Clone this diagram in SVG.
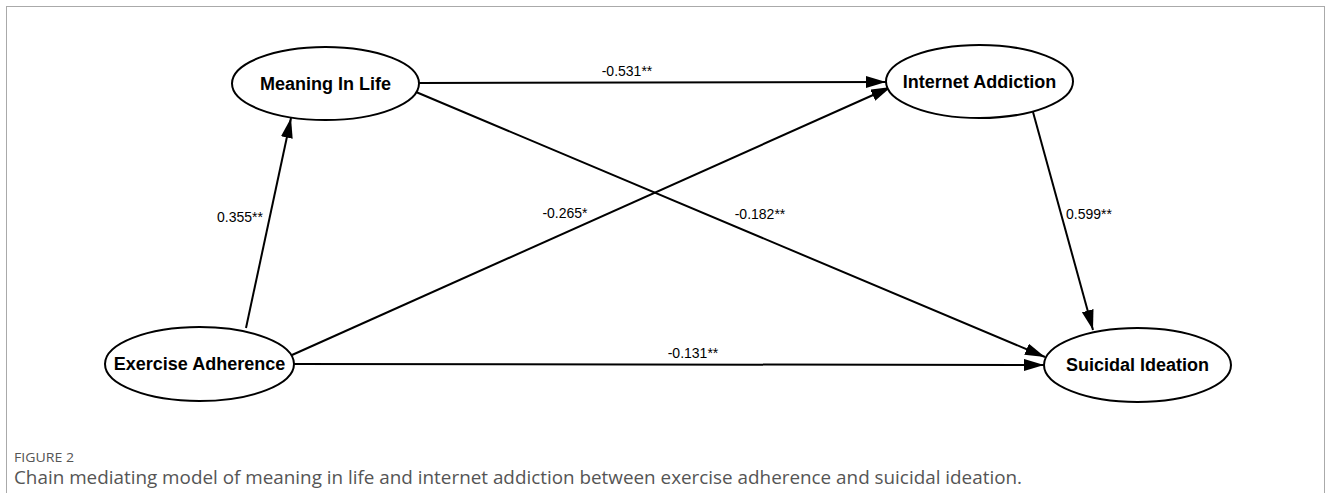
<svg xmlns="http://www.w3.org/2000/svg" width="1330" height="493" viewBox="0 0 1330 493">
<defs>
<style>
.node ellipse{fill:#fff;stroke:#000;stroke-width:2}
.node text{font-family:"Liberation Sans",Arial,sans-serif;font-weight:bold;font-size:18px;fill:#000;text-anchor:middle}
.edge line{stroke:#000;stroke-width:2;marker-end:url(#ah)}
.lbl{font-family:"Liberation Sans",Arial,sans-serif;font-size:14px;fill:#000;text-anchor:middle}
.cap1{font-family:"Open Sans","Noto Sans",sans-serif;font-size:12px;fill:#555}
.cap2{font-family:"Open Sans","Noto Sans",sans-serif;font-size:18px;fill:#555}
</style>
<marker id="ah" markerWidth="22" markerHeight="14" refX="20" refY="6" orient="auto" markerUnits="userSpaceOnUse">
<path d="M0,0 L20,6 L0,12 Z" fill="#000"/>
</marker>
</defs>
<rect x="6.5" y="6.5" width="1318" height="500" fill="#fff" stroke="#aaa" stroke-width="1"/>
<g id="connectors" class="edge">
<line x1="246" y1="328" x2="291" y2="118"/>
<line x1="419" y1="83" x2="886" y2="82"/>
<line x1="416" y1="92" x2="1045" y2="357"/>
<line x1="292" y1="355" x2="891" y2="87"/>
<line x1="1033" y1="112" x2="1093" y2="330"/>
<line x1="294" y1="364" x2="1044" y2="365"/>
</g>
<g id="labels">
<text class="lbl" x="240" y="222">0.355**</text>
<text class="lbl" x="627" y="76">-0.531**</text>
<text class="lbl" x="760" y="219">-0.182**</text>
<text class="lbl" x="565" y="218">-0.265*</text>
<text class="lbl" x="1089" y="219">0.599**</text>
<text class="lbl" x="693" y="358">-0.131**</text>
</g>
<g id="meaning" class="node"><ellipse cx="325.5" cy="83.5" rx="93.5" ry="36.5"/><text x="325.5" y="89.5">Meaning In Life</text></g>
<g id="internet" class="node"><ellipse cx="979.5" cy="81.5" rx="93.5" ry="36.5"/><text x="979.5" y="87.5">Internet Addiction</text></g>
<g id="exercise" class="node"><ellipse cx="199.5" cy="364" rx="94.5" ry="37"/><text x="199.5" y="370">Exercise Adherence</text></g>
<g id="suicidal" class="node"><ellipse cx="1137.5" cy="365" rx="93.5" ry="37"/><text x="1137.5" y="371">Suicidal Ideation</text></g>
<text class="cap1" x="14" y="462" textLength="60" lengthAdjust="spacingAndGlyphs">FIGURE 2</text>
<text class="cap2" x="14" y="484" textLength="1008" lengthAdjust="spacingAndGlyphs">Chain mediating model of meaning in life and internet addiction between exercise adherence and suicidal ideation.</text>
</svg>
